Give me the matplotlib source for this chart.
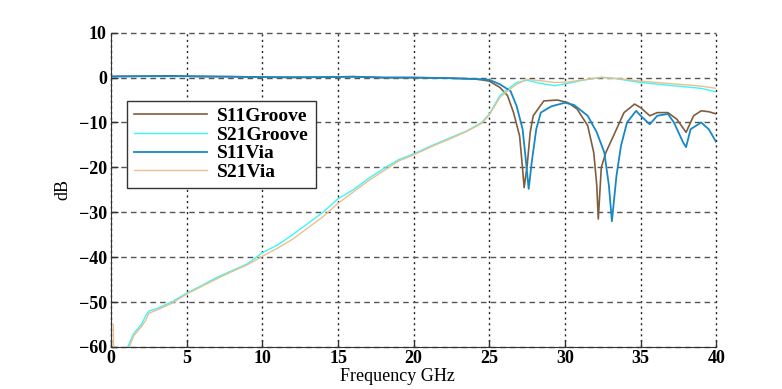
import matplotlib
matplotlib.use('Agg')
import matplotlib.pyplot as plt

# frequency points (GHz) and dB values
s11g_f = [0, 2, 4, 6, 8, 10, 12, 14, 16, 18, 20, 22, 23, 24, 24.5, 25, 25.7, 26.2, 26.6, 27.0, 27.2, 27.3,
          27.5, 27.7, 27.9, 28.6, 29.5, 30.2, 30.8, 31.5, 31.9, 32.1, 32.2, 32.4, 32.7, 33.2, 33.9, 34.6,
          35.0, 35.6, 36.1, 36.8, 37.4, 38.0, 38.5, 39.0, 39.5, 40.0]
s11g_db = [0.3, 0.3, 0.4, 0.2, 0.2, 0.1, 0.0, 0.1, 0.2, 0.0, 0.0, -0.1, -0.2, -0.3, -0.5, -0.8, -2.2, -4.0,
           -7.8, -13.0, -20.4, -24.5, -19.6, -12.2, -8.5, -5.2, -5.0, -5.6, -7.0, -10.7, -16.7, -24.0, -31.5,
           -20.0, -16.7, -13.0, -7.8, -5.9, -6.7, -8.5, -7.8, -7.8, -9.3, -12.2, -8.5, -7.4, -7.6, -8.1]

s21g_f = [0.9, 1.1, 1.5, 2.0, 2.3, 2.5, 3.0, 4.0, 5.0, 6.0, 7.0, 8.0, 9.0, 10.0, 11.0, 12.0, 13.0, 14.0,
          15.0, 16.0, 17.0, 18.0, 19.0, 20.0, 21.3, 22.5, 23.5, 24.5, 25.0, 25.7, 26.2, 26.8, 27.5, 28.4,
          29.3, 30.2, 31.0, 32.4, 33.5, 35.0, 36.8, 39.0, 40.0]
s21g_db = [-62, -60, -57, -55, -53, -52, -51.5, -50, -48, -46.3, -44.5, -43, -41.5, -39, -37.3, -35,
           -32.5, -30, -27, -25, -22.5, -20.3, -18.3, -17.0, -15.0, -13.3, -11.9, -10.0, -8.1, -4.0, -2.6,
           -1.1, -0.6, -1.3, -1.8, -1.3, -0.7, 0.1, -0.3, -1.1, -1.7, -2.4, -3.2]

s11v_f = [0, 2, 4, 6, 8, 10, 12, 14, 16, 18, 20, 22, 23, 24, 25, 25.7, 26.4, 26.8, 27.2, 27.4, 27.6, 27.8,
          28.1, 28.4, 29.1, 30.0, 30.6, 31.5, 32.1, 32.6, 32.9, 33.1, 33.4, 33.7, 34.1, 34.7, 35.0, 35.6,
          36.1, 36.8, 37.2, 37.8, 38.0, 38.3, 39.0, 39.5, 40.0]
s11v_db = [0.2, 0.3, 0.3, 0.3, 0.2, 0.1, 0.1, 0.1, 0.2, 0.0, 0.0, -0.1, -0.2, -0.3, -0.5, -1.5, -3.0, -6.3,
           -11.5, -18.0, -24.8, -18.9, -11.5, -7.8, -6.4, -5.6, -6.1, -8.5, -12.2, -16.7, -24.0, -32.0, -21.9,
           -15.2, -10.0, -7.4, -8.5, -10.4, -8.5, -8.1, -10.0, -14.4, -15.5, -11.5, -10.0, -11.5, -14.4]

s21v_f = [0.15, 0.2, 1.0, 1.2, 1.5, 2.0, 2.3, 2.5, 3.0, 4.0, 5.0, 6.0, 7.0, 8.0, 9.0, 10.0, 11.0, 12.0,
          13.0, 14.0, 15.0, 16.0, 17.0, 18.0, 19.0, 20.0, 21.3, 22.5, 23.5, 24.5, 25.0, 25.7, 26.2, 26.8,
          27.5, 28.4, 29.3, 30.2, 31.0, 32.4, 33.5, 35.0, 36.8, 39.0, 40.0]
s21v_db = [-55, -70, -62, -60, -57.5, -55.5, -54, -52.5, -51.8, -50.3, -48.2, -46.5, -44.8, -43.2, -41.7,
           -39.8, -38, -36, -33.5, -31, -28, -25.5, -23, -20.8, -18.6, -17.2, -15.2, -13.5, -12.0, -10.2,
           -8.3, -4.4, -3.0, -1.5, -0.4, -0.7, -1.1, -1.0, -0.6, 0.0, -0.2, -0.8, -1.3, -1.9, -2.4]

xticks = [0, 5, 10, 15, 20, 25, 30, 35, 40]
yticks = [-60, -50, -40, -30, -20, -10, 0, 10]

fig = plt.figure(figsize=(7.82, 3.89), dpi=100)
ax = fig.add_axes([0.142, 0.108, 0.774, 0.808])

ax.plot(s11g_f, s11g_db, color='#7f5e40', lw=1.2, label='S11Groove')
ax.plot(s21g_f, s21g_db, color='#3ff5f5', lw=1.0, label='S21Groove')
ax.plot(s11v_f, s11v_db, color='#1888c4', lw=1.3, label='S11Via')
ax.plot(s21v_f, s21v_db, color='#e6c08e', lw=1.0, label='S21Via')

ax.set_xlim(0, 40)
ax.set_ylim(-60, 10)
ax.set_xticks(xticks)
ax.set_yticks(yticks)

# matlab style grid: dotted verticals, dashed horizontals
ax.xaxis.grid(True, linestyle=(0, (1.5, 2.5)), color='#222222', lw=1.0)
ax.yaxis.grid(True, linestyle=(0, (4, 3)), color='#555555', lw=1.0)
ax.set_axisbelow(True)
for gl in ax.get_xgridlines() + ax.get_ygridlines():
    gl.set_clip_on(False)

ax.spines['top'].set_visible(False)
ax.spines['right'].set_visible(False)
ax.spines['left'].set_color('#333333')
ax.spines['bottom'].set_color('#333333')
ax.tick_params(direction='in', length=5, width=1, colors='#333333')

tickfont = {'family': 'Liberation Serif', 'weight': 'bold', 'size': 13}
ax.set_xticklabels([str(t) for t in xticks], fontdict=tickfont, color='black')
ax.set_yticklabels([str(t).replace('-', '\u2212') for t in yticks], fontdict=tickfont, color='black')
ax.tick_params(axis='x', pad=2)
ax.tick_params(axis='y', pad=3)

ax.set_xlabel('Frequency GHz', family='Liberation Serif', fontsize=13)
ax.xaxis.set_label_coords(0.473, -0.068)
ax.set_ylabel('dB', family='Liberation Serif', fontsize=13, labelpad=5)

leg = ax.legend(loc='upper left', bbox_to_anchor=(0.026, 0.783), borderaxespad=0, fancybox=False,
                framealpha=1, edgecolor='#333333', borderpad=0.35, handlelength=3.8, handletextpad=0.5,
                labelspacing=0.05, prop={'family': 'Liberation Serif', 'weight': 'bold', 'size': 14})
leg.get_frame().set_linewidth(1.0)

fig.savefig('out.png', dpi=100)
